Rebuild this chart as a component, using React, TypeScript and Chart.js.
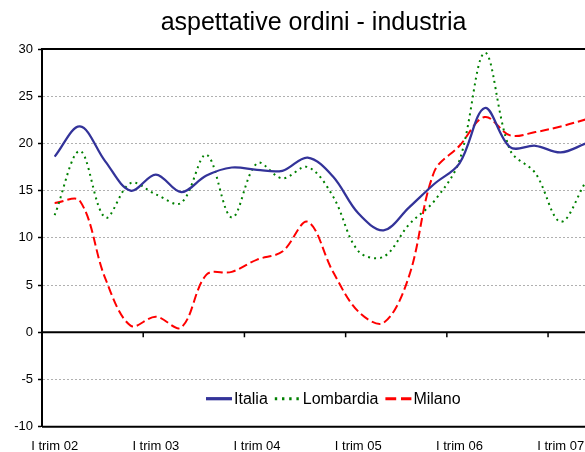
import React, { useEffect, useRef } from 'react';
import { Chart, registerables } from 'chart.js';

Chart.register(...registerables);

const TITLE = 'aspettative ordini - industria';

const QUARTERS = [
  'I trim 02', 'II trim 02', 'III trim 02', 'IV trim 02',
  'I trim 03', 'II trim 03', 'III trim 03', 'IV trim 03',
  'I trim 04', 'II trim 04', 'III trim 04', 'IV trim 04',
  'I trim 05', 'II trim 05', 'III trim 05', 'IV trim 05',
  'I trim 06', 'II trim 06', 'III trim 06', 'IV trim 06',
  'I trim 07', 'II trim 07',
];

const SERIES_NAMES = ['Italia', 'Lombardia', 'Milano'];

const ITALIA = [18.6, 21.8, 18.1, 15.0, 16.7, 14.85, 16.6, 17.45, 17.2, 17.1, 18.5, 16.5, 12.6, 10.8, 13.2, 15.7, 17.9, 23.75, 19.6, 19.75, 19.05, 20.0];
const LOMBARDIA = [12.4, 19.2, 12.15, 15.8, 14.6, 13.7, 18.8, 12.15, 17.9, 16.3, 17.5, 14.4, 8.6, 8.0, 11.4, 13.9, 18.2, 29.6, 19.3, 16.85, 11.7, 16.0];
const MILANO = [13.7, 13.9, 5.7, 0.7, 1.65, 0.5, 6.1, 6.4, 7.7, 8.55, 11.7, 6.4, 2.2, 1.0, 5.9, 17.0, 19.75, 22.8, 20.85, 21.2, 21.8, 22.55];

const LABELED_QUARTERS = [0, 4, 8, 12, 16, 20];
const Y_MIN = -10;
const Y_MAX = 30;
const Y_STEP = 5;

const FONT = "'Liberation Sans', Arial, Helvetica, sans-serif";
const W = 585;
const H = 452;

const framePlugin = {
  id: 'frameLines',
  beforeDatasetsDraw(chart: any) {
    const { ctx, chartArea, scales } = chart;
    const x = scales.x;
    const y = scales.y;
    ctx.save();
    ctx.setLineDash([]);
    ctx.strokeStyle = '#000';
    ctx.lineWidth = 2;
    [Y_MAX, Y_MIN, 0].forEach((v) => {
      const py = y.getPixelForValue(v);
      ctx.beginPath();
      ctx.moveTo(chartArea.left, py);
      ctx.lineTo(chartArea.right, py);
      ctx.stroke();
    });
    const py0 = y.getPixelForValue(0);
    ctx.lineWidth = 1.5;
    for (let v = 3.5; v < x.max; v += 4) {
      const px = x.getPixelForValue(v);
      ctx.beginPath();
      ctx.moveTo(px, py0);
      ctx.lineTo(px, py0 + 5);
      ctx.stroke();
    }
    ctx.restore();
  },
};

const legendPlugin = {
  id: 'insideLegend',
  afterDatasetsDraw(chart: any) {
    const { ctx, chartArea } = chart;
    const cy = chartArea.bottom - 28;
    let x = chartArea.left + 164;
    ctx.save();
    ctx.font = `16px ${FONT}`;
    ctx.textBaseline = 'middle';
    ctx.textAlign = 'left';
    chart.data.datasets.forEach((ds: any) => {
      ctx.save();
      ctx.strokeStyle = ds.borderColor;
      ctx.lineWidth = ds.borderWidth + 1;
      const dash = (ds.borderDash || []).map((d: number) => d * 1.2);
      ctx.setLineDash(dash);
      ctx.beginPath();
      ctx.moveTo(x, cy);
      ctx.lineTo(x + 26, cy);
      ctx.stroke();
      ctx.restore();
      x += 28;
      ctx.fillStyle = '#000';
      ctx.fillText(ds.label, x, cy + 1);
      x += ctx.measureText(ds.label).width + 7;
    });
    ctx.restore();
  },
};

export default function App() {
  const canvasRef = useRef<HTMLCanvasElement | null>(null);

  useEffect(() => {
    const canvas = canvasRef.current;
    if (!canvas) return;
    const toPoints = (arr: number[]) => arr.map((v, i) => ({ x: i, y: v }));
    const chart = new Chart(canvas, {
      type: 'line',
      data: {
        datasets: [
          {
            label: SERIES_NAMES[0],
            data: toPoints(ITALIA),
            borderColor: '#333399',
            backgroundColor: '#333399',
            borderWidth: 2.25,
            pointRadius: 0,
            tension: 0.35,
          },
          {
            label: SERIES_NAMES[1],
            data: toPoints(LOMBARDIA),
            borderColor: '#008000',
            backgroundColor: '#008000',
            borderWidth: 2,
            borderDash: [2, 4],
            pointRadius: 0,
            tension: 0.35,
          },
          {
            label: SERIES_NAMES[2],
            data: toPoints(MILANO),
            borderColor: '#ff0000',
            backgroundColor: '#ff0000',
            borderWidth: 2,
            borderDash: [9, 4],
            pointRadius: 0,
            tension: 0.35,
          },
        ],
      },
      options: {
        responsive: false,
        animation: false,
        layout: { padding: { left: 0, right: 0, top: 0, bottom: 0 } },
        plugins: {
          legend: { display: false },
          tooltip: { enabled: false },
          title: {
            display: true,
            text: TITLE,
            color: '#000',
            fullSize: false,
            font: { family: FONT, size: 25, weight: 'normal' },
            padding: { top: 8, bottom: 11 },
          },
        },
        scales: {
          x: {
            type: 'linear',
            position: 'bottom',
            min: -0.5,
            max: 20.96,
            grid: { display: false, drawTicks: false },
            border: { display: false },
            ticks: {
              color: '#000',
              font: { family: FONT, size: 13 },
              padding: 12,
              maxRotation: 0,
              autoSkip: false,
              callback: (v: any) => QUARTERS[Number(v)] ?? '',
            },
            afterBuildTicks: (scale: any) => {
              scale.ticks = LABELED_QUARTERS.map((v) => ({ value: v }));
            },
            afterFit: (scale: any) => {
              scale.height = 25.3;
              scale.paddingLeft = 0;
              scale.paddingRight = 0;
            },
          },
          y: {
            type: 'linear',
            min: Y_MIN,
            max: Y_MAX,
            ticks: {
              stepSize: Y_STEP,
              color: '#000',
              font: { family: FONT, size: 13 },
              padding: 5,
            },
            grid: {
              color: '#b0b0b0',
              lineWidth: 1,
              tickColor: '#000',
              tickLength: 4,
              tickWidth: 1.5,
              tickBorderDash: [],
            },
            border: { display: true, color: '#000', width: 2, dash: [2, 2] },
            afterFit: (scale: any) => {
              scale.width = 42;
            },
          },
        },
      },
      plugins: [framePlugin, legendPlugin],
    } as any);
    return () => chart.destroy();
  }, []);

  return (
    <div style={{ position: 'fixed', left: 0, top: 0, width: W, height: H, overflow: 'hidden', background: '#fff' }}>
      <canvas ref={canvasRef} width={W} height={H} style={{ display: 'block' }} />
    </div>
  );
}
